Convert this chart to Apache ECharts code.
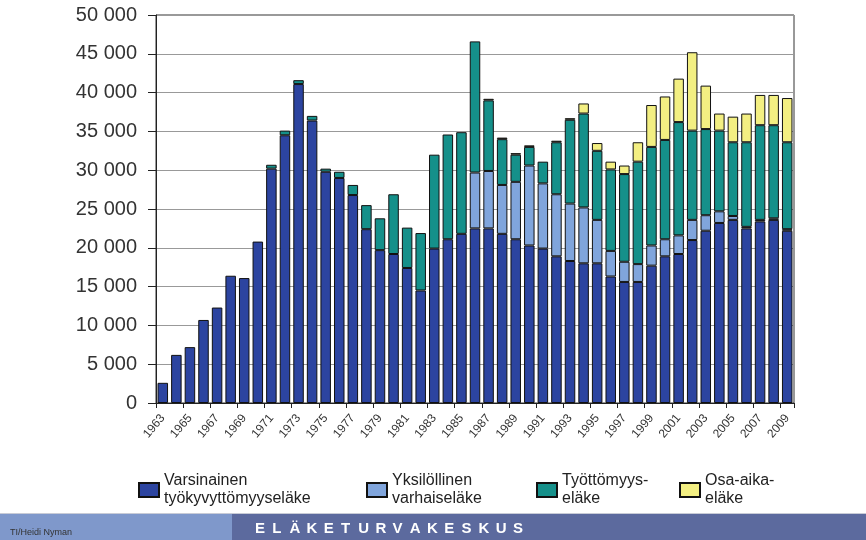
<!DOCTYPE html>
<html lang="fi">
<head>
<meta charset="UTF-8">
<title>Eläkkeet 1963-2009</title>
<script src="https://cdn.jsdelivr.net/npm/echarts@6/dist/echarts.min.js"></script>
<style>
  html, body { margin: 0; padding: 0; background: #fff; }
  #chart { width: 866px; height: 540px; }
</style>
</head>
<body>
<div id="chart"></div>
<script>
  // vuodet 1963-2009
  var years = [];
  for (var y = 1963; y <= 2009; y++) years.push(String(y));

  var varsinainen = [2600, 6200, 7200, 10700, 12300, 16400, 16100, 20800, 30200, 34500,
    41100, 36400, 29800, 29000, 26800, 22400, 19700, 19200, 17400, 14500,
    19900, 21100, 21800, 22500, 22500, 21800, 21100, 20300, 19900, 18900,
    18300, 18000, 18000, 16300, 15600, 15600, 17700, 18900, 19200, 21000,
    22200, 23200, 23600, 22500, 23400, 23600, 22200];
  var yksilollinen = [0, 0, 0, 0, 0, 0, 0, 0, 0, 0,
    0, 0, 0, 0, 0, 0, 0, 0, 0, 0,
    0, 0, 0, 7200, 7400, 6300, 7400, 10300, 8400, 8000,
    7400, 7200, 5600, 3300, 2600, 2300, 2600, 2200, 2400, 2600,
    2000, 1500, 500, 200, 200, 200, 200];
  var tyottomyys = [0, 0, 0, 0, 0, 0, 0, 0, 500, 600,
    500, 600, 400, 800, 1300, 3100, 4100, 7700, 5200, 7400,
    12100, 13500, 13100, 16900, 9100, 5900, 3500, 2400, 2800, 6700,
    10800, 12100, 8900, 10500, 11300, 13200, 12700, 12800, 14600, 11500,
    11100, 10400, 9500, 10900, 12200, 12000, 11200];
  var osaaika = [0, 0, 0, 0, 0, 0, 0, 0, 0, 0,
    0, 0, 0, 0, 0, 0, 0, 0, 0, 0,
    0, 0, 0, 0, 200, 200, 200, 200, 0, 200,
    200, 1300, 1000, 1000, 1100, 2500, 5400, 5600, 5600, 10100,
    5600, 2200, 3300, 3700, 3900, 3900, 5700];

  var names = ['Varsinainen\ntyökyvyttömyyseläke', 'Yksilöllinen\nvarhaiseläke', 'Työttömyys-\neläke', 'Osa-aika-\neläke'];
  var colors = ['#2c44a0', '#80a5dc', '#15908a', '#f3ef82'];
  var values = [varsinainen, yksilollinen, tyottomyys, osaaika];

  var chart = echarts.init(document.getElementById('chart'));

  var series = names.map(function (n, i) {
    return {
      name: n,
      type: 'bar',
      stack: 'total',
      barWidth: 10.5,
      itemStyle: { color: colors[i], borderColor: '#111', borderWidth: 1 },
      // nollia ei piirretä
      data: values[i].map(function (v) { return v === 0 ? '-' : v; })
    };
  });

  var legendLeft = [133, 361, 531, 674];
  var legends = names.map(function (n, i) {
    return {
      data: [{ name: n, icon: 'rect' }],
      left: legendLeft[i],
      top: 467,
      itemWidth: 20,
      itemHeight: 14,
      selectedMode: false,
      textStyle: { fontSize: 16, lineHeight: 18, color: '#222', fontFamily: 'Liberation Sans, Arial' }
    };
  });

  // alapalkin kirjaimet harvennettuna
  var brand = 'ELÄKETURVAKESKUS';
  var brandLetters = brand.split('').map(function (ch, i) {
    return {
      type: 'text', left: 255 + i * 17.2, top: 521,
      style: { text: ch, fill: '#fff', font: 'bold 15px Liberation Sans, Arial' }
    };
  });

  var option = {
    animation: false,
    legend: legends,
    grid: {
      left: 156, right: 72, top: 15, bottom: 137,
      show: true, borderColor: '#333', borderWidth: 1
    },
    xAxis: {
      type: 'category',
      data: years,
      axisLine: { lineStyle: { color: '#222' } },
      axisTick: { show: true, length: 5, lineStyle: { color: '#222' } },
      axisLabel: {
        interval: 1, rotate: 50, fontSize: 12, color: '#333', margin: 13,
        fontFamily: 'Liberation Sans, Arial'
      }
    },
    yAxis: {
      type: 'value',
      min: 0, max: 50000, interval: 5000,
      axisLine: { show: true, lineStyle: { color: '#222' } },
      axisTick: { show: true, length: 8, lineStyle: { color: '#222' } },
      splitLine: { lineStyle: { color: '#999' } },
      axisLabel: {
        fontSize: 20, color: '#333', margin: 19, fontFamily: 'Liberation Sans, Arial',
        formatter: function (v) { return String(v).replace(/\B(?=(\d{3})+(?!\d))/g, ' '); }
      }
    },
    graphic: [
      { type: 'rect', shape: { x: 0, y: 513, width: 866, height: 1 }, style: { fill: '#c8cbd6' } },
      { type: 'rect', shape: { x: 0, y: 514, width: 232, height: 26 }, style: { fill: '#7f98cb' } },
      { type: 'rect', shape: { x: 232, y: 514, width: 634, height: 26 }, style: { fill: '#5c6a9e' } },
      {
        type: 'text', left: 10, top: 528,
        style: { text: 'TI/Heidi Nyman', fill: '#333', font: '9px Liberation Sans, Arial' }
      }
    ].concat(brandLetters),
    series: series
  };
  chart.setOption(option);
</script>
</body>
</html>
